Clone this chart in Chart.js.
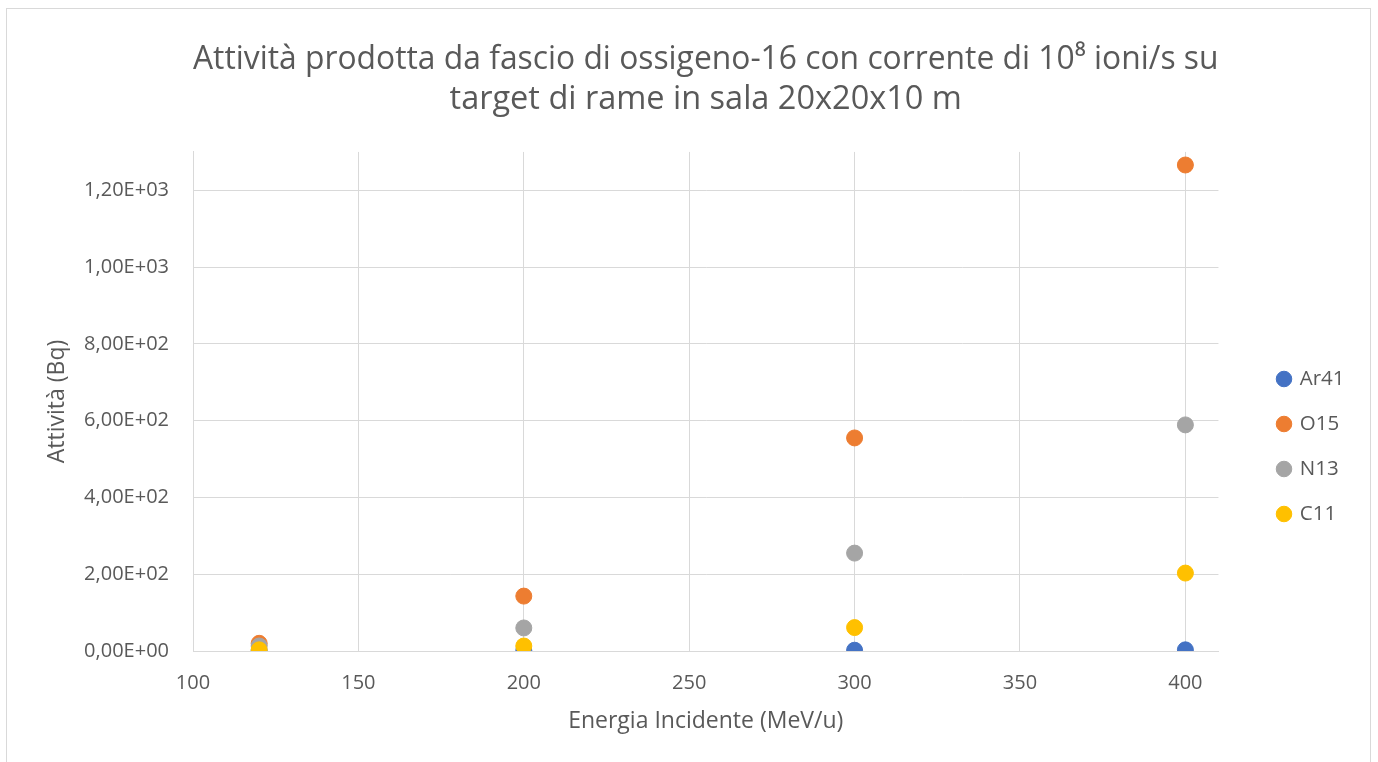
<!DOCTYPE html>
<html>
<head>
<meta charset="utf-8">
<script src="https://cdn.jsdelivr.net/npm/chart.js@4"></script>
<style>
  html, body { margin: 0; padding: 0; background: #fff; overflow: hidden; }
  #frame { position: absolute; left: 6px; top: 8px; width: 1365px; height: 800px; border: 1px solid #d9d9d9; box-sizing: border-box; }
  #wrap { position: absolute; left: 0; top: 0; width: 1378px; height: 762px; }
</style>
</head>
<body>
<div id="frame"></div>
<div id="wrap"><canvas id="chart" width="1378" height="762"></canvas></div>
<script>
// energia incidente (MeV/u)
const energie = [120, 200, 300, 400];
// attività (Bq) per isotopo
const ar41 = [1, 1, 2, 3];
const o15 = [20, 143, 555, 1266];
const n13 = [13, 60, 255, 589];
const c11 = [3, 13, 61, 203];

const titolo = [
  'Attività prodotta da fascio di ossigeno-16 con corrente di 10\u2078 ioni/s su',
  'target di rame in sala 20x20x10 m'
];

const grigio = '#595959';
const font = 'Open Sans';

function punti(vals) {
  return energie.map((e, i) => ({ x: e, y: vals[i] }));
}

function serie(label, vals, colore, ordine) {
  return {
    label: label,
    data: punti(vals),
    backgroundColor: colore,
    borderColor: colore,
    borderWidth: 1,
    pointRadius: 8,
    pointHoverRadius: 8,
    order: ordine
  };
}

// "1,20E+03" come in Excel
function formatoE(v) {
  const [m, e] = Number(v).toExponential(2).split('e');
  const n = parseInt(e, 10);
  const exp = (n < 0 ? '-' : '+') + String(Math.abs(n)).padStart(2, '0');
  return m.replace('.', ',') + 'E' + exp;
}

// sposta la legenda dove la mette Excel
const spostaLegenda = {
  id: 'spostaLegenda',
  afterLayout(chart) {
    const lg = chart.legend;
    if (!lg) return;
    const w = lg.right - lg.left;
    const h = lg.bottom - lg.top;
    lg.left = 1254;
    lg.right = lg.left + w;
    lg.top = (893 - h) / 2;
    lg.bottom = lg.top + h;
  }
};

new Chart(document.getElementById('chart').getContext('2d'), {
  type: 'scatter',
  data: {
    datasets: [
      serie('Ar41', ar41, '#4472C4', 4),
      serie('O15', o15, '#ED7D31', 3),
      serie('N13', n13, '#A5A5A5', 2),
      serie('C11', c11, '#FFC000', 1)
    ]
  },
  options: {
    responsive: false,
    animation: false,
    events: [],
    layout: { padding: { left: 40, right: 59, top: 10, bottom: 0 } },
    plugins: {
      title: {
        display: true,
        text: titolo,
        fullSize: false,
        color: grigio,
        font: { family: font, size: 32.5, weight: 'normal', lineHeight: 1.23 },
        padding: { top: 30, bottom: 32 }
      },
      legend: {
        position: 'right',
        align: 'center',
        labels: {
          usePointStyle: true,
          pointStyle: 'circle',
          boxWidth: 11,
          boxHeight: 11,
          padding: 24.5,
          color: grigio,
          font: { family: font, size: 20.5 },
          sort: (a, b) => a.datasetIndex - b.datasetIndex
        }
      },
      tooltip: { enabled: false }
    },
    scales: {
      x: {
        type: 'linear',
        min: 100,
        max: 410,
        afterFit: (s) => { s.height = 111; },
        ticks: {
          stepSize: 50,
          includeBounds: false,
          padding: 20,
          color: grigio,
          font: { family: font, size: 20 }
        },
        grid: { color: '#d9d9d9', drawTicks: false },
        border: { color: '#d9d9d9' },
        title: {
          display: true,
          text: 'Energia Incidente (MeV/u)',
          color: grigio,
          font: { family: font, size: 23 },
          padding: { top: 0, bottom: 26.5 }
        }
      },
      y: {
        type: 'linear',
        min: 0,
        max: 1300,
        afterFit: (s) => { s.width = 153; },
        ticks: {
          stepSize: 200,
          includeBounds: false,
          padding: 24,
          color: grigio,
          font: { family: font, size: 20 },
          callback: (v) => formatoE(v)
        },
        grid: { color: '#d9d9d9', drawTicks: false },
        border: { color: '#d9d9d9' },
        title: {
          display: true,
          text: 'Attività (Bq)',
          color: grigio,
          font: { family: font, size: 23 },
          padding: { top: 4, bottom: 0 }
        }
      }
    }
  },
  plugins: [spostaLegenda]
});
</script>
</body>
</html>
